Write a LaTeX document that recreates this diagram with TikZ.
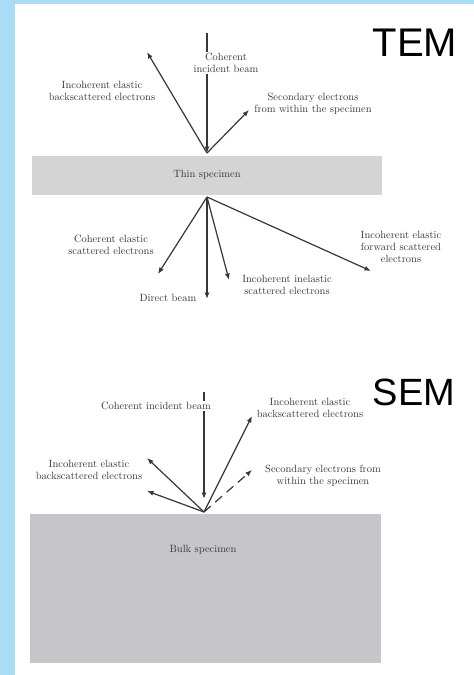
\documentclass[tikz,border=0pt]{standalone}
\usepackage{fontspec}
\newfontfamily\headfont{Liberation Sans}
\usetikzlibrary{arrows.meta}
\definecolor{bgblue}{RGB}{170, 220, 245}
\definecolor{thingrey}{RGB}{212, 212, 212}
\definecolor{bulkgrey}{RGB}{198, 198, 202}
\definecolor{inkgrey}{RGB}{55, 55, 55}
\tikzstyle{label} = [align=center, text=inkgrey, font=\fontsize{10.5}{12}\selectfont,
                     inner sep=1pt]
\tikzstyle{mask} = [label, fill=white]
\tikzstyle{title} = [font=\headfont\fontsize{40}{40}\selectfont, text=black]
\tikzstyle{arrow} = [line width=1.2pt, draw=inkgrey, -{Latex[length=6.5pt,width=5pt]}]

\begin{document}
\begin{tikzpicture}[x=1pt, y=-1pt]
        \useasboundingbox (0,0) rectangle (474,675);
        \fill[bgblue] (0,0) rectangle (474,675);
        \fill[white] (15,4) rectangle (474,675);

        %TEM
        \node (TEM) [title] at (415,43) {TEM};
        \fill[thingrey] (32,156) rectangle (382,195);
        \node (Thin) [label] at (207,175) {Thin specimen};
        \coordinate (TEMin) at (207,153);
        \coordinate (TEMout) at (207,197);

        %Incident beam and backscatter
        \coordinate (TEMbeam) at (207,33);
        \coordinate (TEMback) at (147,52);
        \coordinate (TEMsec) at (249,110);
        \draw [arrow] (TEMbeam) -- (TEMin);
        \node (TEMbeamlbl) [mask] at (226,63) {Coherent\\incident beam};
        \draw [arrow] (TEMin) -- (TEMback);
        \draw [arrow] (TEMin) -- (TEMsec);
        \node (TEMbacklbl) [label] at (102,91) {Incoherent elastic\\backscattered electrons};
        \node (TEMseclbl) [label] at (313,104) {Secondary electrons\\from within the specimen};

        %Transmitted electrons
        \coordinate (TEMcoh) at (158,274);
        \coordinate (TEMdir) at (207,299);
        \coordinate (TEMinel) at (229,280);
        \coordinate (TEMfwd) at (371,271);
        \draw [arrow] (TEMout) -- (TEMcoh);
        \draw [arrow] (TEMout) -- (TEMdir);
        \draw [arrow] (TEMout) -- (TEMinel);
        \draw [arrow] (TEMout) -- (TEMfwd);
        \node (TEMcohlbl) [label] at (111,245) {Coherent elastic\\scattered electrons};
        \node (TEMdirlbl) [label] at (168,298) {Direct beam};
        \node (TEMinellbl) [label] at (287,285) {Incoherent inelastic\\scattered electrons};
        \node (TEMfwdlbl) [label] at (401,247) {Incoherent elastic\\forward scattered\\electrons};

        %SEM
        \node (SEM) [title, font=\headfont\fontsize{38}{38}\selectfont] at (414,392) {SEM};
        \fill[bulkgrey] (30,514) rectangle (381,663);
        \node (Bulk) [label] at (203,550) {Bulk specimen};
        \coordinate (SEMin) at (204,512);

        %Incident beam
        \coordinate (SEMbeam) at (204,392);
        \coordinate (SEMhit) at (204,499);
        \draw [arrow] (SEMbeam) -- (SEMhit);
        \node (SEMbeamlbl) [mask] at (156,406) {Coherent incident beam};

        %Backscattered and secondary
        \coordinate (SEMbackR) at (252,416);
        \coordinate (SEMbackL1) at (147,458);
        \coordinate (SEMbackL2) at (147,491);
        \coordinate (SEMsec) at (252,470);
        \draw [arrow] (SEMin) -- (SEMbackR);
        \draw [arrow] (SEMin) -- (SEMbackL1);
        \draw [arrow] (SEMin) -- (SEMbackL2);
        \draw [arrow, dash pattern=on 9pt off 6pt] (SEMin) -- (SEMsec);
        \node (SEMbackRlbl) [label] at (310,408) {Incoherent elastic\\backscattered electrons};
        \node (SEMbackLlbl) [label] at (89,470) {Incoherent elastic\\backscattered electrons};
        \node (SEMseclbl) [label] at (323,476) {Secondary electrons from\\within the specimen};

    \end{tikzpicture}
\end{document}
